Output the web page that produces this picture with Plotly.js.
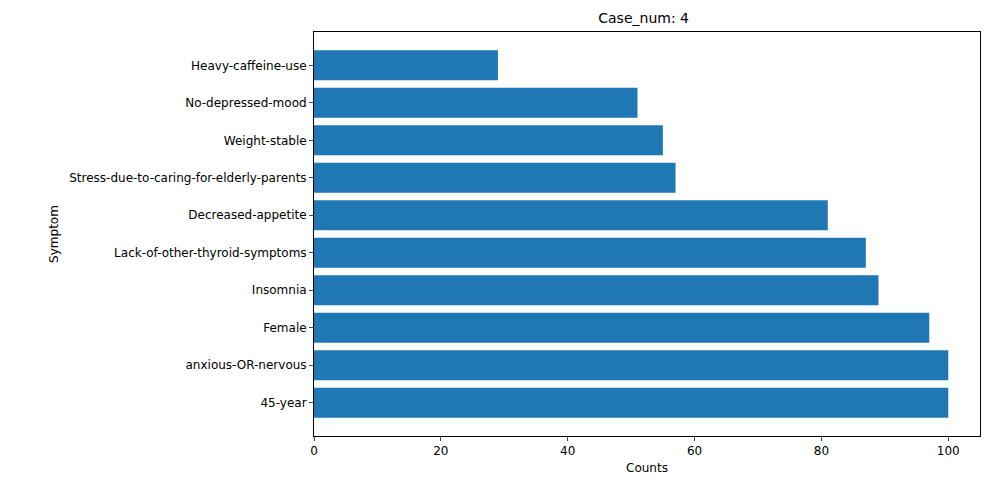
<!DOCTYPE html>
<html><head><script src="https://cdn.plot.ly/plotly-3.0.1.min.js"></script></head>
<body style="margin:0">
<div id="c" style="width:989px;height:490px"></div>
<script>
const symptoms = ["45-year","anxious-OR-nervous","Female","Insomnia","Lack-of-other-thyroid-symptoms","Decreased-appetite","Stress-due-to-caring-for-elderly-parents","Weight-stable","No-depressed-mood","Heavy-caffeine-use"];
const counts = [100,100,97,89,87,81,57,55,51,29];
const f = {family:"DejaVu Sans", size:12, color:"#000"};
Plotly.newPlot("c",[{type:"bar",orientation:"h",y:symptoms.map((_,i)=>i),x:counts,width:0.8,marker:{color:"#1f77b4"}}],{
  width:989,height:490,margin:{l:314,r:9,t:32,b:54},
  paper_bgcolor:"#fff",plot_bgcolor:"#fff",font:f,showlegend:false,
  title:{text:"Case_num: 4",x:0.6508,xanchor:"center",y:0.963,yanchor:"middle",font:{family:"DejaVu Sans",size:14}},
  xaxis:{range:[0,105],tickvals:[0,20,40,60,80,100],showgrid:false,zeroline:false,showline:true,mirror:true,linecolor:"#000",linewidth:1,ticks:"outside",ticklen:4,title:{text:"Counts",font:f,standoff:6}},
  yaxis:{range:[-0.89,9.89],tickvals:symptoms.map((_,i)=>i),ticktext:symptoms,showgrid:false,zeroline:false,showline:true,mirror:true,linecolor:"#000",linewidth:1,ticks:"outside",ticklen:4,title:{text:"Symptom",font:f,standoff:8}}
},{displayModeBar:false});
</script></body></html>
